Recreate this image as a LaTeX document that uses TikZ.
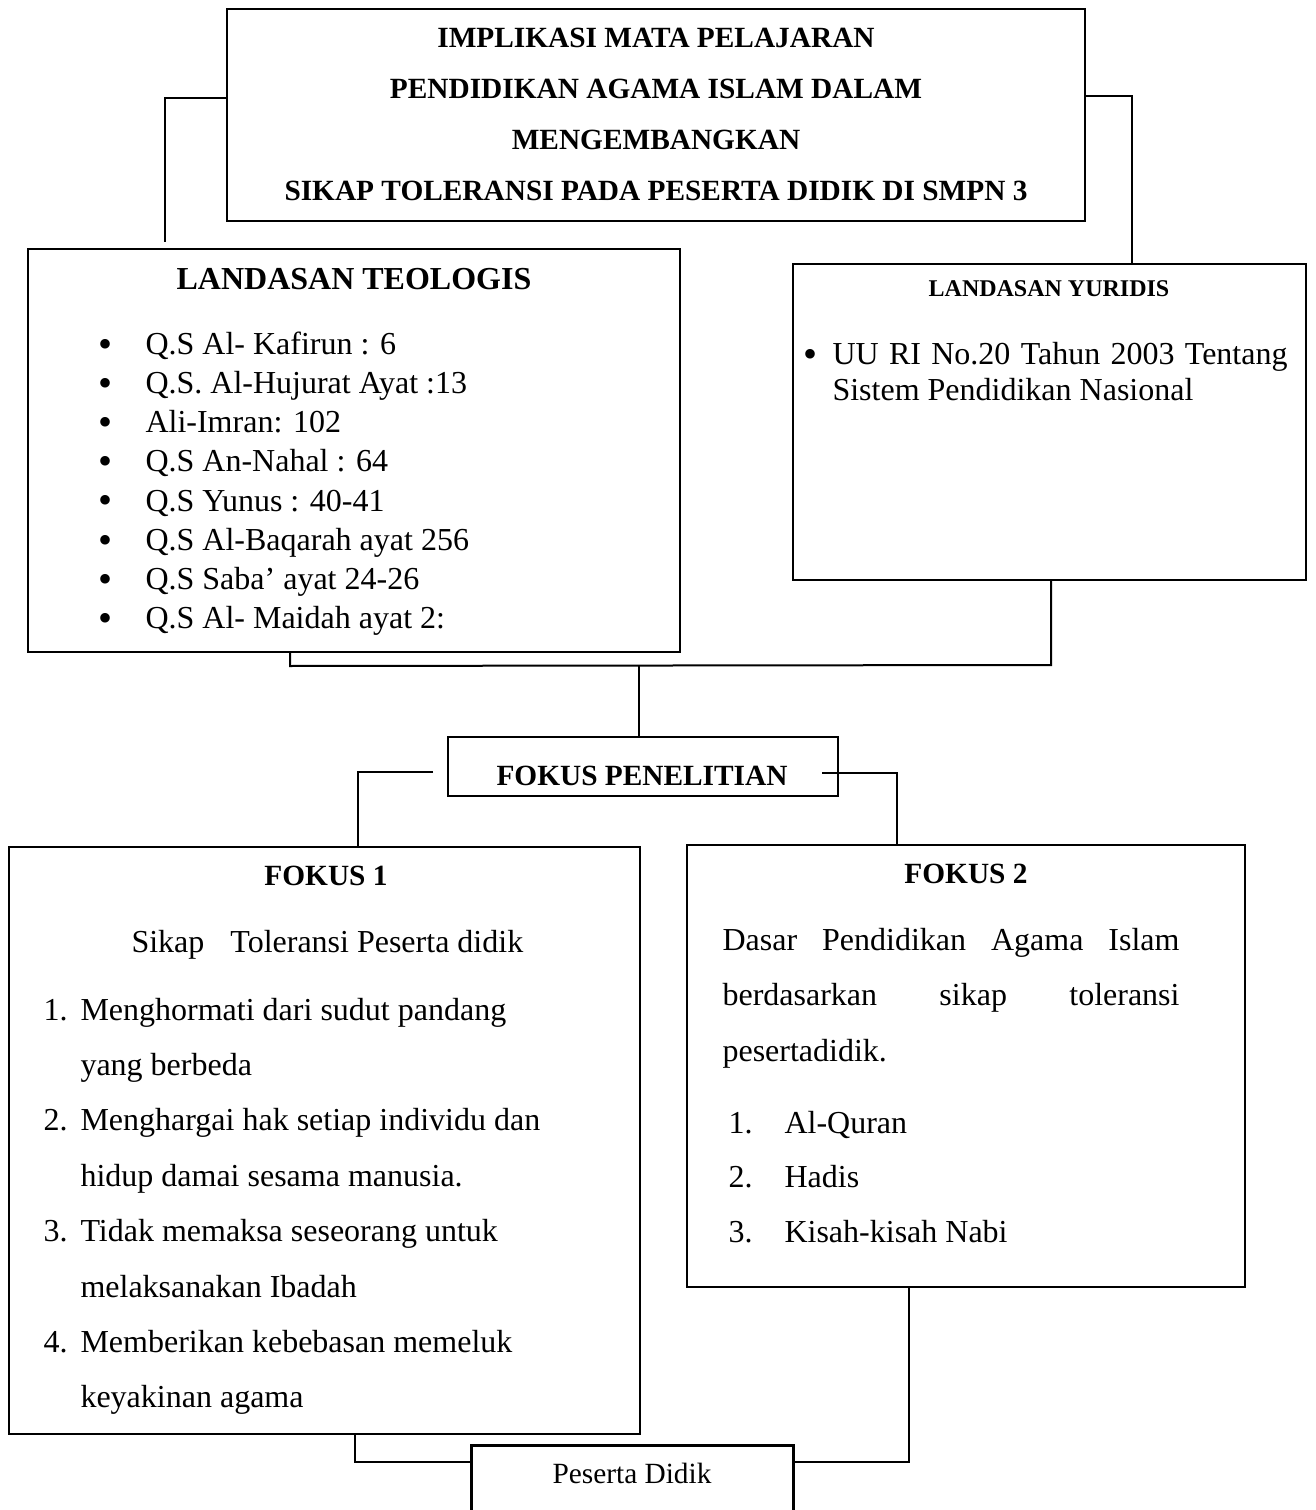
\documentclass[tikz,border=0pt]{standalone}
\usepackage{fontspec}
\setmainfont{Liberation Serif}
\usetikzlibrary{fit}
\newlength\pxu \setlength\pxu{0.375pt}
\begin{document}
\begin{tikzpicture}[x=0.375pt,y=-0.375pt,
  box/.style={draw, line width=0.9pt, inner sep=0pt},
  boxline/.style={line width=0.9pt},
  conn/.style={line width=0.75pt},
  body/.style={font=\fontsize{12}{14}\selectfont, inner sep=0pt, anchor=base west},
  bul/.style={font=\fontsize{15}{16}\selectfont, inner sep=0pt, anchor=base},
  head/.style={font=\fontsize{11}{13}\selectfont\bfseries, inner sep=0pt, anchor=base},
  bighead/.style={font=\fontsize{12}{14}\selectfont\bfseries, inner sep=0pt, anchor=base},
  smallhead/.style={font=\fontsize{9}{11}\selectfont\bfseries, inner sep=0pt, anchor=base},
  plain/.style={font=\fontsize{11}{13}\selectfont, inner sep=0pt, anchor=base}]
\useasboundingbox (0,0) rectangle (1315,1510);

% ---------- boxes ----------
\node[box, fit={(227,9) (1085,221)}] (title) {};
\node[box, fit={(28,249) (680,652)}] (teo) {};
\node[box, fit={(793,264) (1306,580)}] (yur) {};
\node[box, fit={(448,737) (838,796)}] (fp) {};
\node[box, fit={(9,847) (640,1434)}] (f1) {};
\node[box, fit={(687,845) (1245,1287)}] (f2) {};
\node[inner sep=0pt, fit={(472,1446) (793,1512)}] (pd) {};
\draw[boxline] (pd.south west) -- (pd.north west) -- (pd.north east) -- (pd.south east);

% ---------- title ----------
\foreach \t [count=\i] in {IMPLIKASI MATA PELAJARAN, PENDIDIKAN AGAMA ISLAM DALAM, MENGEMBANGKAN, SIKAP TOLERANSI PADA PESERTA DIDIK DI SMPN 3}
  \node[head] (tt\i) at (656,{48+50.7*(\i-1)}) {\t};

% ---------- landasan teologis ----------
\node[bighead] (teohead) at (354,290) {LANDASAN TEOLOGIS};
\foreach \t [count=\i] in {Q.S Al- Kafirun : 6, Q.S. Al-Hujurat Ayat :13, Ali-Imran: 102, Q.S An-Nahal : 64, Q.S Yunus : 40-41, Q.S Al-Baqarah ayat 256, Q.S Saba’ ayat 24-26, Q.S Al- Maidah ayat 2:}
{
  \node[bul] (teob\i) at (106,{358+39*(\i-1)}) {•};
  \node[body] (teo\i) at (145,{355+39*(\i-1)}) {\t};
}

% ---------- landasan yuridis ----------
\node[smallhead] (yurhead) at (1049,297) {LANDASAN YURIDIS};
\node[bul] (yurb) at (810,368) {•};
\node[body] (yur1) at (832,365) {\makebox[455\pxu][s]{UU RI No.20 Tahun 2003 Tentang}};
\node[body] (yur2) at (832,401) {Sistem Pendidikan Nasional};

% ---------- fokus penelitian ----------
\node[head] (fptext) at (642,785) {FOKUS PENELITIAN};

% ---------- fokus 1 ----------
\node[head] (f1head) at (326,885) {FOKUS 1};
\node[body] (f1sub) at (131,952) {Sikap\hspace{26\pxu}Toleransi Peserta didik};
\foreach \t [count=\i] in {Menghormati dari sudut pandang, yang berbeda, Menghargai hak setiap individu dan, hidup damai sesama manusia., Tidak memaksa seseorang untuk, melaksanakan Ibadah, Memberikan kebebasan memeluk, keyakinan agama}
  \node[body] (f1l\i) at (80,{1020+55.4*(\i-1)}) {\t};
\foreach \i in {1,2,3,4}
  \node[body] (f1n\i) at (43,{1020+110.8*(\i-1)}) {\i.};

% ---------- fokus 2 ----------
\node[head] (f2head) at (966,883) {FOKUS 2};
\node[body] (f2p1) at (722,950) {\makebox[457\pxu][s]{Dasar Pendidikan Agama Islam}};
\node[body] (f2p2) at (722,1005) {\makebox[457\pxu][s]{berdasarkan sikap toleransi}};
\node[body] (f2p3) at (722,1061) {pesertadidik.};
\foreach \t [count=\i] in {Al-Quran, Hadis, Kisah-kisah Nabi}
{
  \node[body] (f2n\i) at (728,{1133+54.5*(\i-1)}) {\i.};
  \node[body] (f2l\i) at (784,{1133+54.5*(\i-1)}) {\t};
}

% ---------- peserta didik ----------
\node[plain] (pdtext) at (632,1483) {Peserta Didik};

% ---------- connectors ----------
\coordinate (c1) at (165,98);
\coordinate (c1e) at (165,242);
\draw[conn] (c1 -| title.west) -- (c1) -- (c1e);

\coordinate (c2) at (1132,96);
\draw[conn] (c2 -| title.east) -- (c2) -- (c2 |- yur.north);

\coordinate (j1) at (290,666);
\coordinate (j2) at (1051,665);
\draw[conn] (j1 |- teo.south) -- (j1) -- (j2) -- (j2 |- yur.south);
\coordinate (j3) at (639,666);
\draw[conn] (j3) -- (j3 |- fp.north);

\coordinate (k1s) at (433,772);
\coordinate (k1) at (358,772);
\draw[conn] (k1s) -- (k1) -- (k1 |- f1.north);

\coordinate (k2s) at (822,773);
\coordinate (k2) at (897,773);
\draw[conn] (k2s) -- (k2) -- (k2 |- f2.north);

\coordinate (m1) at (355,1462);
\draw[conn] (m1 |- f1.south) -- (m1) -- (m1 -| pd.west);
\coordinate (m2) at (909,1462);
\draw[conn] (m2 -| pd.east) -- (m2) -- (m2 |- f2.south);
\end{tikzpicture}
\end{document}
